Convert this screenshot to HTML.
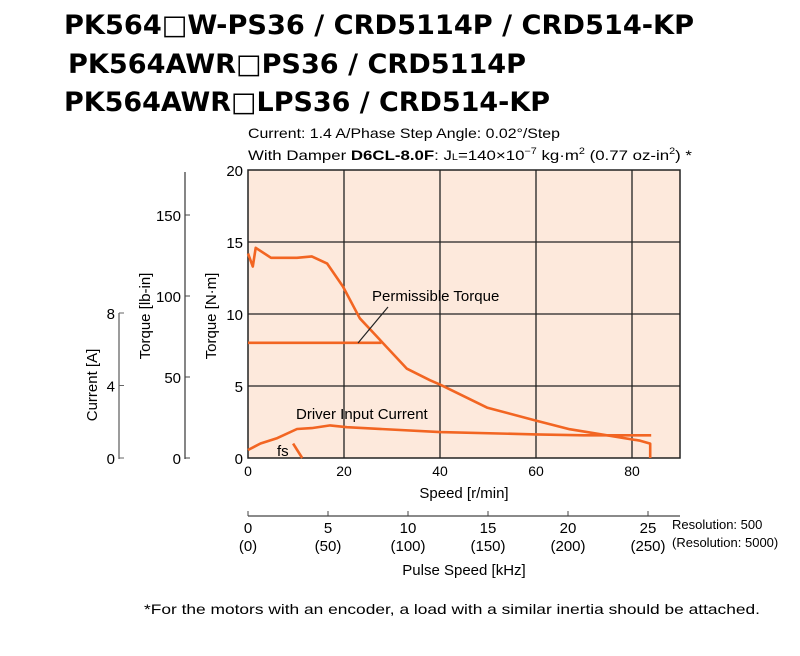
<!DOCTYPE html>
<html><head><meta charset="utf-8"><style>
body{margin:0;background:#fff;width:800px;height:651px;overflow:hidden}
svg{font-family:"Liberation Sans",sans-serif}
.h{font-family:"DejaVu Sans","Liberation Sans",sans-serif;font-weight:bold;font-size:27px;fill:#000}
</style></head><body>
<svg width="800" height="651" viewBox="0 0 800 651">
<text class="h" x="64" y="34" textLength="630" lengthAdjust="spacingAndGlyphs">PK564□W-PS36 / CRD5114P / CRD514-KP</text>
<text class="h" x="68" y="73" textLength="458" lengthAdjust="spacingAndGlyphs">PK564AWR□PS36 / CRD5114P</text>
<text class="h" x="64" y="111" textLength="486" lengthAdjust="spacingAndGlyphs">PK564AWR□LPS36 / CRD514-KP</text>
<text x="248" y="138" font-size="14" textLength="312" lengthAdjust="spacingAndGlyphs">Current: 1.4 A/Phase  Step Angle: 0.02°/Step</text>
<text x="248" y="160" font-size="14" textLength="444" lengthAdjust="spacingAndGlyphs">With Damper <tspan font-weight="bold">D6CL-8.0F</tspan>: J<tspan font-size="9">L</tspan>=140×10<tspan font-size="9" dy="-6">−7</tspan><tspan dy="6"> kg·m</tspan><tspan font-size="9" dy="-6">2</tspan><tspan dy="6"> (0.77 oz-in</tspan><tspan font-size="9" dy="-6">2</tspan><tspan dy="6">) *</tspan></text>
<g id="plot"></g>
<text x="760" y="614" font-size="14" text-anchor="end" textLength="616" lengthAdjust="spacingAndGlyphs">*For the motors with an encoder, a load with a similar inertia should be attached.</text>
</svg>
<script>
const speedTicks=[0,20,40,60,80];
const torqueTicks=[0,5,10,15,20];
const lbinTicks=[0,50,100,150];
const currentTicks=[0,4,8];
const pulseTicks=["0","5","10","15","20","25"];
const pulseTicks2=["(0)","(50)","(100)","(150)","(200)","(250)"];
const torqueSpeed=[0,1,1.6,4.8,10.2,13.3,16.5,19.8,23.3,27.5,33.1,37.9,40,49.8,60,67,81.7,83.8,83.8];
const torqueVals=[14.2,13.3,14.6,13.9,13.9,14.0,13.5,11.9,9.7,8.2,6.2,5.4,5.1,3.5,2.6,2.0,1.2,1.0,0];
const permSpeed=[0,27.8];
const permVals=[8,8];
const curSpeed=[0,2.6,6.1,10.2,13.3,17.1,20.6,40,60,70,84];
const curVals=[0.44,0.8,1.1,1.6,1.65,1.8,1.7,1.43,1.3,1.25,1.25];
const fsSpeed=[9.4,11.3];
const fsVals=[1.0,0];

const X0=248,X1=680,Y0=458,Y1=170;
const sx=v=>X0+v*(X1-X0)/90;
const sy=v=>Y0-v*(Y0-Y1)/20;
const cy=a=>Y0-a*(458-313)/8;
const ly=v=>Y0-v*(458-215)/150;
const px=k=>248+k*80;
const NS="http://www.w3.org/2000/svg";
const g=document.getElementById('plot');
function el(t,a,txt){const e=document.createElementNS(NS,t);for(const k in a)e.setAttribute(k,a[k]);if(txt!==undefined)e.textContent=txt;g.appendChild(e);return e;}
let e;
e=el('rect',{x:X0,y:Y1,width:X1-X0,height:Y0-Y1,fill:'#fde9dc',stroke:'#222','stroke-width':1.5});


speedTicks.forEach(v=>{
 if(v>0){e=el('line',{x1:sx(v),x2:sx(v),y1:Y1,y2:Y0,stroke:'#222','stroke-width':1.3});
 
 }
 e=el('text',{x:sx(v),y:476,'font-size':14,'text-anchor':'middle'},v);
 
 
});
torqueTicks.forEach(v=>{
 if(v>0&&v<20){e=el('line',{x1:X0,x2:X1,y1:sy(v),y2:sy(v),stroke:'#222','stroke-width':1.3});
 
 }
 e=el('text',{x:243,y:sy(v)+6,'font-size':15,'text-anchor':'end'},v);
 
 
});
e=el('line',{x1:185,x2:185,y1:172,y2:459,stroke:'#444','stroke-width':1.3});


lbinTicks.forEach(v=>{
 e=el('line',{x1:185,x2:190,y1:ly(v),y2:ly(v),stroke:'#444'});
 
 
 e=el('text',{x:181,y:ly(v)+6,'font-size':15,'text-anchor':'end'},v);
 
 
});
e=el('line',{x1:119,x2:119,y1:313,y2:459,stroke:'#666','stroke-width':1.3});


currentTicks.forEach(v=>{
 e=el('line',{x1:119,x2:124,y1:cy(v),y2:cy(v),stroke:'#666'});
 
 
 e=el('text',{x:115,y:cy(v)+6,'font-size':15,'text-anchor':'end'},v);
 
 
});
[[97,385,'Current [A]','current-axis-title'],[150,316,'Torque [lb-in]','lbin-axis-title'],[216,316,'Torque [N·m]','torque-axis-title']].forEach(t=>{
 e=el('text',{x:t[0],y:t[1],'font-size':15,'text-anchor':'middle',transform:`rotate(-90 ${t[0]} ${t[1]})`},t[2]);
 
 
});
e=el('text',{x:464,y:498,'font-size':15,'text-anchor':'middle'},'Speed [r/min]');


e=el('line',{x1:248,x2:680,y1:516,y2:516,stroke:'#444','stroke-width':1.3});


pulseTicks.forEach((v,k)=>{
 e=el('line',{x1:px(k),x2:px(k),y1:511,y2:516,stroke:'#444'});
 
 
 e=el('text',{x:px(k),y:533,'font-size':15,'text-anchor':'middle'},v);
 
 
 e=el('text',{x:px(k),y:551,'font-size':15,'text-anchor':'middle'},pulseTicks2[k]);
 
 
});
e=el('text',{x:672,y:529,'font-size':13},'Resolution: 500');


e=el('text',{x:672,y:547,'font-size':13},'(Resolution: 5000)');


e=el('text',{x:464,y:575,'font-size':15,'text-anchor':'middle'},'Pulse Speed [kHz]');


function line(xs,ys,f,name){
 const d=xs.map((x,i)=>(i?'L':'M')+sx(x).toFixed(1)+' '+f(ys[i]).toFixed(1)).join(' ');
 const p=el('path',{d,fill:'none',stroke:'#f26522','stroke-width':2.6,'stroke-linejoin':'round'});
 
 
}
line(torqueSpeed,torqueVals,sy,'pullout-torque-line');
line(permSpeed,permVals,sy,'permissible-torque-line');
line(curSpeed,curVals,cy,'driver-input-current-line');
line(fsSpeed,fsVals,sy,'fs-line');
e=el('line',{x1:358,y1:343,x2:388,y2:307,stroke:'#222','stroke-width':1.2});


e=el('text',{x:372,y:301,'font-size':15},'Permissible Torque');


e=el('text',{x:296,y:419,'font-size':15},'Driver Input Current');


e=el('text',{x:277,y:456,'font-size':15},'fs');


</script>
</body></html>
